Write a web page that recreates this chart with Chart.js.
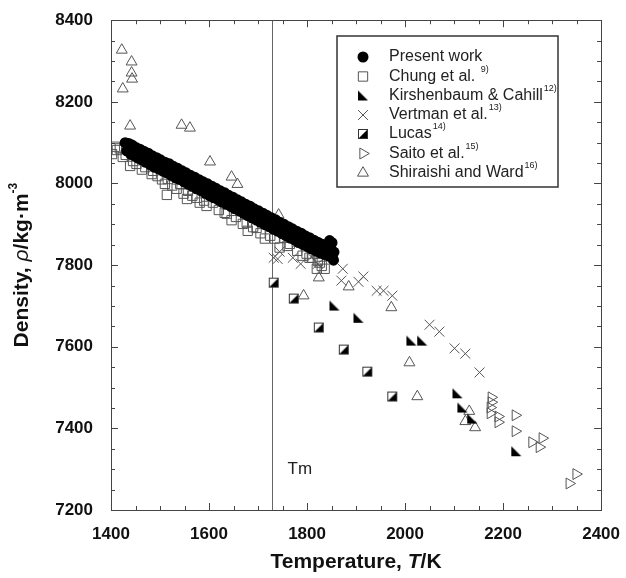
<!DOCTYPE html>
<html><head><meta charset="utf-8">
<script src="https://cdn.jsdelivr.net/npm/chart.js@4.4.1/dist/chart.umd.min.js"></script>
<style>html,body{margin:0;padding:0;background:#fff;}#wrap{width:626px;height:578px;position:relative;}</style>
</head><body><div id="wrap"><canvas id="c" width="626" height="578"></canvas></div>
<script>
// ---------- DATA ----------
const xTickLabels = [1400, 1600, 1800, 2000, 2200, 2400];
const yTickLabels = [7200, 7400, 7600, 7800, 8000, 8200, 8400];
const meltingPoint = 1728;

const presentT = [1429,1432,1436,1440,1443,1447,1451,1455,1459,1463,1467,1471,1476,1480,1484,1488,1493,1497,1501,1506,1510,1514,1519,1523,1527,1532,1536,1540,1545,1549,1553,1558,1562,1566,1571,1575,1580,1584,1588,1593,1597,1601,1606,1610,1614,1619,1623,1627,1632,1636,1640,1645,1649,1653,1658,1662,1666,1671,1675,1679,1684,1688,1692,1697,1701,1705,1710,1714,1718,1723,1727,1731,1736,1740,1744,1749,1753,1757,1762,1766,1770,1775,1779,1783,1788,1792,1796,1801,1805,1809,1814,1818,1822,1827,1831,1836,1840,1844,1848,1852,1854,1855,1851,1846];
const presentRho = [8100,8080,8098,8072,8094,8068,8088,8062,8084,8058,8079,8052,8074,8046,8068,8040,8063,8036,8058,8030,8052,8026,8048,8020,8042,8014,8037,8010,8031,8004,8026,7998,8020,7993,8015,7987,8009,7982,8004,7976,7999,7970,7993,7965,7988,7960,7982,7954,7977,7949,7971,7943,7966,7938,7960,7932,7955,7927,7949,7921,7944,7916,7938,7910,7933,7905,7927,7899,7922,7894,7916,7888,7911,7883,7905,7877,7900,7872,7894,7866,7889,7861,7883,7855,7878,7850,7872,7845,7867,7840,7861,7835,7856,7830,7851,7826,7846,7822,7844,7818,7812,7832,7855,7860];

const chungT = [1402,1408,1412,1418,1424,1430,1439,1445,1452,1463,1470,1483,1486,1495,1504,1510,1514,1516,1525,1534,1541,1548,1555,1557,1566,1575,1581,1590,1595,1608,1620,1632,1636,1646,1655,1669,1677,1679,1690,1697,1705,1714,1725,1734,1744,1754,1760,1765,1780,1791,1799,1805,1811,1820,1822,1826,1830,1836,1820];
const chungRho = [8072,8090,8082,8086,8065,8070,8043,8055,8048,8034,8040,8023,8031,8018,8010,7999,7972,8011,7995,7987,7999,7975,7962,7982,7970,7965,7953,7958,7945,7953,7935,7928,7926,7910,7918,7901,7904,7884,7893,7891,7878,7865,7872,7865,7843,7867,7847,7852,7835,7823,7828,7818,7818,7828,7810,7806,7798,7791,7791];

const kirshT = [1856,1905,2013,2035,2107,2117,2137,2227];
const kirshRho = [7701,7671,7615,7615,7486,7451,7424,7344];

const vertmanT = [1732,1740,1744,1771,1787,1809,1822,1873,1870,1905,1915,1942,1956,1974,2050,2070,2101,2123,2152];
const vertmanRho = [7818,7815,7833,7818,7803,7820,7803,7791,7762,7759,7772,7737,7737,7725,7654,7637,7596,7583,7537];

const lucasT = [1732,1773,1824,1875,1923,1974];
const lucasRho = [7757,7718,7647,7593,7539,7478];

const saitoT = [2176,2176,2174,2174,2190,2190,2225,2225,2259,2280,2274,2335,2349];
const saitoRho = [7476,7464,7451,7437,7429,7415,7432,7393,7366,7376,7354,7265,7288];

const shiraT = [1422,1442,1442,1443,1424,1439,1544,1561,1602,1646,1658,1742,1824,1885,1793,1972,2009,2025,2131,2123,2143];
const shiraRho = [8327,8298,8271,8256,8232,8141,8143,8136,8053,8016,7998,7923,7769,7747,7725,7696,7561,7478,7442,7417,7402];

const legendNames = ['Present work','Chung et al. ','Kirshenbaum & Cahill','Vertman et al.','Lucas','Saito et al.','Shiraishi and Ward'];
const legendRefs = ['','9)','12)','13)','14)','15)','16)'];

// ---------- helpers ----------
const GRAY = '#555';
const FONT = "Arial, 'Liberation Sans', Helvetica, sans-serif";
function zip(a, b) { return a.map((v, i) => ({x: v, y: b[i]})); }

function makeKirsh() {
  const c = document.createElement('canvas'); c.width = 12; c.height = 12;
  const g = c.getContext('2d');
  g.fillStyle = '#000'; g.beginPath();
  g.moveTo(1, 1); g.lineTo(1, 11); g.lineTo(11, 11); g.closePath(); g.fill();
  return c;
}
function makeLucas() {
  const c = document.createElement('canvas'); c.width = 12; c.height = 12;
  const g = c.getContext('2d');
  g.fillStyle = '#fff'; g.fillRect(1, 1, 10, 10);
  g.fillStyle = '#000'; g.beginPath();
  g.moveTo(11, 1); g.lineTo(11, 11); g.lineTo(1, 11); g.closePath(); g.fill();
  g.strokeStyle = '#333'; g.lineWidth = 1; g.strokeRect(1.5, 1.5, 9, 9);
  return c;
}
const kirshImg = makeKirsh();
const lucasImg = makeLucas();

const datasets = [
  {label: legendNames[0], data: zip(presentT, presentRho), pointStyle: 'circle', radius: 5.5, backgroundColor: '#000', borderColor: '#000', borderWidth: 0},
  {label: legendNames[1], data: zip(chungT, chungRho), pointStyle: 'rect', radius: 6.6, backgroundColor: 'rgba(0,0,0,0)', borderColor: GRAY, borderWidth: 1},
  {label: legendNames[2], data: zip(kirshT, kirshRho), pointStyle: kirshImg, radius: 5},
  {label: legendNames[3], data: zip(vertmanT, vertmanRho), pointStyle: 'crossRot', radius: 7, borderColor: GRAY, borderWidth: 1},
  {label: legendNames[4], data: zip(lucasT, lucasRho), pointStyle: lucasImg, radius: 5},
  {label: legendNames[5], data: zip(saitoT, saitoRho), pointStyle: 'triangle', rotation: 90, radius: 6.3, backgroundColor: 'rgba(0,0,0,0)', borderColor: GRAY, borderWidth: 1},
  {label: legendNames[6], data: zip(shiraT, shiraRho), pointStyle: 'triangle', radius: 6.3, backgroundColor: 'rgba(0,0,0,0)', borderColor: GRAY, borderWidth: 1}
];
datasets.forEach(d => { d.showLine = false; d.pointRadius = d.radius; d.pointHoverRadius = d.radius; });

function drawPieces(ctx, pieces, x, y) {
  let total = 0;
  pieces.forEach(p => { ctx.font = p.font; p.w = ctx.measureText(p.t).width; total += p.w; });
  let cx = x - total / 2;
  pieces.forEach(p => { ctx.font = p.font; ctx.fillText(p.t, cx, y + (p.dy || 0)); cx += p.w; });
}

const decorPlugin = {
  id: 'decor',
  beforeDatasetsDraw(chart) {
    const {ctx, chartArea: a, scales: {x, y}} = chart;
    ctx.save();
    const mx = Math.round(x.getPixelForValue(meltingPoint)) + 0.5;
    ctx.strokeStyle = '#666'; ctx.lineWidth = 1;
    ctx.beginPath(); ctx.moveTo(mx, a.top); ctx.lineTo(mx, a.bottom); ctx.stroke();
    ctx.fillStyle = '#222'; ctx.font = '17px ' + FONT; ctx.textBaseline = 'middle'; ctx.textAlign = 'left';
    ctx.fillText('Tm', mx + 15, 469);
    ctx.restore();
  },
  afterDatasetsDraw(chart) {
    const {ctx, chartArea: a, scales: {x, y}} = chart;
    ctx.save();
    ctx.strokeStyle = '#444'; ctx.lineWidth = 1;
    ctx.strokeRect(Math.round(a.left) + 0.5, Math.round(a.top) + 0.5, Math.round(a.right - a.left), Math.round(a.bottom - a.top));
    ctx.beginPath();
    x.ticks.forEach(t => {
      const px = Math.round(x.getPixelForValue(t.value)) + 0.5;
      const len = xTickLabels.includes(t.value) ? 7 : 4;
      ctx.moveTo(px, a.bottom); ctx.lineTo(px, a.bottom - len);
      ctx.moveTo(px, a.top); ctx.lineTo(px, a.top + len);
    });
    y.ticks.forEach(t => {
      const py = Math.round(y.getPixelForValue(t.value)) + 0.5;
      const len = yTickLabels.includes(t.value) ? 7 : 4;
      ctx.moveTo(a.left, py); ctx.lineTo(a.left + len, py);
      ctx.moveTo(a.right, py); ctx.lineTo(a.right - len, py);
    });
    ctx.stroke();

    // legend
    const L = 337, T = 36, R = 558, B = 187;
    ctx.fillStyle = '#fff'; ctx.fillRect(L, T, R - L, B - T);
    ctx.strokeStyle = '#333'; ctx.lineWidth = 1.5; ctx.strokeRect(L, T, R - L, B - T);
    const rowY = [57, 76.5, 95.5, 115, 134, 153.5, 173];
    chart.data.datasets.forEach((ds, i) => {
      const yy = rowY[i];
      const el = {pointStyle: ds.pointStyle, rotation: ds.rotation || 0, radius: ds.radius, borderWidth: ds.borderWidth || 0};
      ctx.save();
      ctx.fillStyle = ds.backgroundColor || '#000';
      ctx.strokeStyle = ds.borderColor || '#000';
      ctx.lineWidth = ds.borderWidth || 0;
      Chart.helpers.drawPoint(ctx, el, 363, yy);
      ctx.restore();
      ctx.fillStyle = '#222'; ctx.textBaseline = 'middle'; ctx.textAlign = 'left';
      ctx.font = '16px ' + FONT;
      ctx.fillText(legendNames[i], 389, yy);
      const w = ctx.measureText(legendNames[i]).width;
      if (legendRefs[i]) {
        ctx.font = '9px ' + FONT;
        ctx.fillText(legendRefs[i], 389 + w + 1, yy - 7);
      }
    });

    // axis titles
    ctx.fillStyle = '#111'; ctx.textBaseline = 'middle'; ctx.textAlign = 'left';
    const bold = 'bold 21px ' + FONT, boldIt = 'italic bold 21px ' + FONT;
    drawPieces(ctx, [{t: 'Temperature, ', font: bold}, {t: 'T', font: boldIt}, {t: '/K', font: bold}], (a.left + a.right) / 2, 562);
    ctx.save();
    ctx.translate(22, (a.top + a.bottom) / 2);
    ctx.rotate(-Math.PI / 2);
    drawPieces(ctx, [{t: 'Density, ', font: bold}, {t: 'ρ', font: 'italic 21px ' + FONT}, {t: '/kg·m', font: bold}, {t: '-3', font: 'bold 12px ' + FONT, dy: -8}], 0, 0);
    ctx.restore();
    ctx.restore();
  }
};

new Chart(document.getElementById('c'), {
  type: 'scatter',
  data: {datasets},
  options: {
    responsive: false, animation: false, devicePixelRatio: 1,
    layout: {padding: {left: 0, right: 24, top: 19, bottom: 0}},
    plugins: {legend: {display: false}, tooltip: {enabled: false}},
    scales: {
      x: {
        type: 'linear', min: 1400, max: 2400,
        grid: {display: false}, border: {display: false},
        ticks: {stepSize: 50, autoSkip: false, maxRotation: 0, padding: 6, color: '#111',
          font: {family: FONT, size: 17, weight: 'bold'},
          callback: v => xTickLabels.includes(v) ? String(v) : ''},
        afterFit: s => { s.height = 68; }
      },
      y: {
        type: 'linear', min: 7200, max: 8400,
        grid: {display: false}, border: {display: false},
        ticks: {stepSize: 50, autoSkip: false, padding: 10, color: '#111',
          font: {family: FONT, size: 17, weight: 'bold'},
          callback: v => yTickLabels.includes(v) ? String(v) : ''},
        afterFit: s => { s.width = 111; }
      }
    }
  },
  plugins: [decorPlugin]
});
</script></body></html>
